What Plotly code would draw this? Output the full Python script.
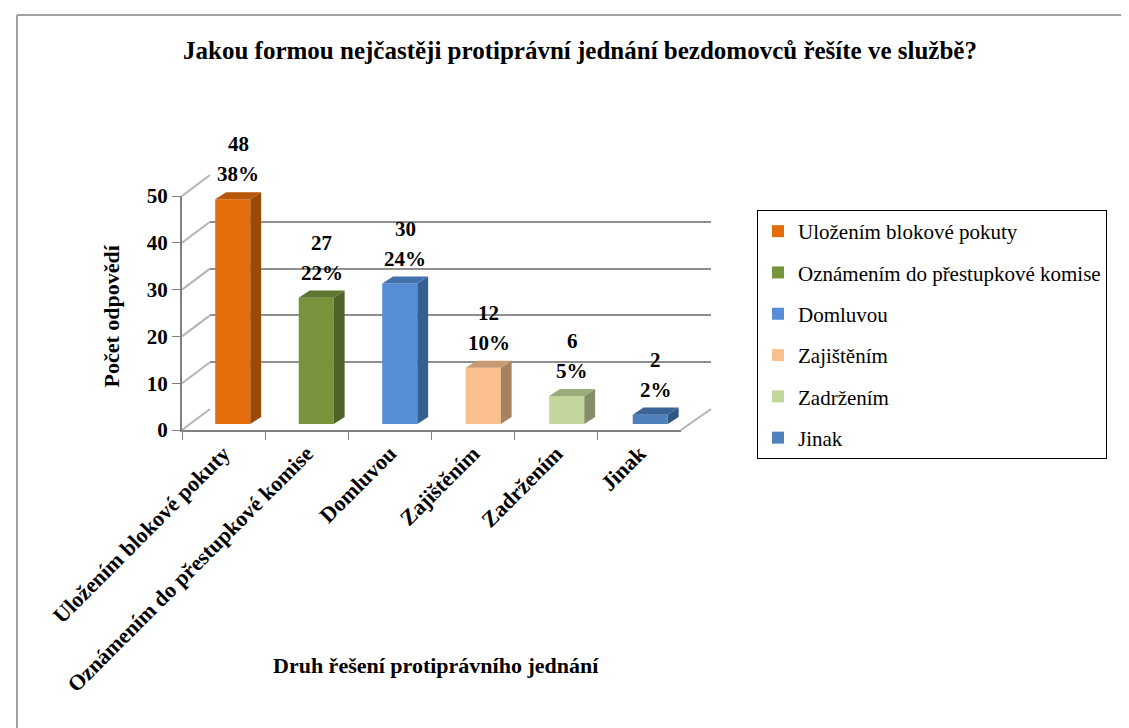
import plotly.graph_objects as go

categories = ["Uložením blokové pokuty", "Oznámením do přestupkové komise", "Domluvou",
              "Zajištěním", "Zadržením", "Jinak"]
counts = [48, 27, 30, 12, 6, 2]
y_ticks = [0, 10, 20, 30, 40, 50]

front_colors = ["#E46C0A", "#77933C", "#558ED5", "#FAC090", "#C3D69B", "#4F81BD"]
side_colors = ["#9B4907", "#4F6228", "#365F91", "#A88160", "#848F68", "#2E5783"]
top_colors = ["#B65608", "#5F7630", "#4272AE", "#C89A73", "#9CAB7C", "#3B6496"]

W, H = 1129, 728
FONT = "Liberation Serif, Times New Roman, serif"


def fx(px):
    return px / W


def fy(py):
    return 1 - py / H


# pixel boxes of the three planes (front axis, back wall, bar plane)
FRONT = dict(x0=174, x1=673, y0=422, y50=188)
BACK = dict(x0=202, x1=703, y0=401, y50=167)
BARS = dict(x0=183, x1=684, y0=416, y50=182)

bar_w = 0.42
dx = 0.13   # depth of bars in category units
dy = 1.5    # depth of bars in value units

total = sum(counts)
pcts = [round(v * 100 / total) for v in counts]

fig = go.Figure()

# back wall subplot (x, y) - only gridlines
fig.add_trace(go.Scatter(x=[0], y=[None], xaxis="x", yaxis="y", showlegend=False, hoverinfo="skip"))
# front axis subplot (x2, y2)
fig.add_trace(go.Scatter(x=categories, y=[None] * len(categories), xaxis="x2", yaxis="y2",
                         showlegend=False, hoverinfo="skip"))

# bars on (x3, y3)
for i, (cat, v) in enumerate(zip(categories, counts)):
    fig.add_trace(go.Bar(x=[i], y=[v], width=bar_w, name=cat, xaxis="x3", yaxis="y3",
                         marker=dict(color=front_colors[i], line=dict(width=0)),
                         legendgroup=cat))
    xr = i + bar_w / 2
    xl = i - bar_w / 2
    fig.add_trace(go.Scatter(x=[xr, xr + dx, xr + dx, xr, xr], y=[0, dy, v + dy, v, 0],
                             fill="toself", fillcolor=side_colors[i], mode="lines",
                             line=dict(width=0), xaxis="x3", yaxis="y3",
                             showlegend=False, hoverinfo="skip", cliponaxis=False))
    fig.add_trace(go.Scatter(x=[xl, xr, xr + dx, xl + dx, xl], y=[v, v, v + dy, v + dy, v],
                             fill="toself", fillcolor=top_colors[i], mode="lines",
                             line=dict(width=0), xaxis="x3", yaxis="y3",
                             showlegend=False, hoverinfo="skip", cliponaxis=False))
    fig.add_annotation(x=i + dx / 2, y=v, xref="x3", yref="y3", text=str(v), showarrow=False,
                       yshift=55, font=dict(family=FONT, size=21, color="black", weight="bold"))
    fig.add_annotation(x=i + dx / 2, y=v, xref="x3", yref="y3", text=f"{pcts[i]}%", showarrow=False,
                       yshift=25, font=dict(family=FONT, size=21, color="black", weight="bold"))

shapes = []
# diagonal wall lines connecting the front axis with the back wall
for t in y_ticks:
    yf = FRONT["y0"] + (FRONT["y50"] - FRONT["y0"]) * t / 50
    yb = BACK["y0"] + (BACK["y50"] - BACK["y0"]) * t / 50
    shapes.append(dict(type="line", xref="paper", yref="paper",
                       x0=fx(FRONT["x0"]), y0=fy(yf), x1=fx(BACK["x0"]), y1=fy(yb),
                       line=dict(color="#b4b4b4", width=2), layer="below"))
shapes.append(dict(type="line", xref="paper", yref="paper",
                   x0=fx(FRONT["x1"]), y0=fy(FRONT["y0"]), x1=fx(BACK["x1"]), y1=fy(BACK["y0"]),
                   line=dict(color="#b4b4b4", width=2), layer="below"))
# chart border (left and top edges visible)
shapes.append(dict(type="line", xref="paper", yref="paper", x0=fx(9), y0=fy(7), x1=1.01, y1=fy(7),
                   line=dict(color="#a0a0a0", width=2)))
shapes.append(dict(type="line", xref="paper", yref="paper", x0=fx(9), y0=fy(7), x1=fx(9), y1=-0.01,
                   line=dict(color="#a0a0a0", width=2)))

fig.add_annotation(text="Počet odpovědí", xref="paper", yref="paper", x=fx(88), y=fy(308),
                   textangle=-90, showarrow=False,
                   font=dict(family=FONT, size=22, color="black", weight="bold"))
fig.add_annotation(text="Druh řešení protiprávního jednání", xref="paper", yref="paper",
                   x=fx(428), y=fy(672), showarrow=False,
                   font=dict(family=FONT, size=22, color="black", weight="bold"))

fig.update_layout(
    width=W, height=H,
    margin=dict(l=0, r=0, t=0, b=0, autoexpand=False),
    paper_bgcolor="white",
    plot_bgcolor="rgba(0,0,0,0)",
    barmode="overlay",
    title=dict(text="Jakou formou nejčastěji protiprávní jednání bezdomovců řešíte ve službě?",
               x=fx(572), y=fy(42), xanchor="center", yanchor="middle",
               font=dict(family=FONT, size=25, color="black", weight="bold")),
    xaxis=dict(domain=[fx(BACK["x0"]), fx(BACK["x1"])], anchor="y", range=[0, 1], visible=False,
               fixedrange=True, automargin=False),
    yaxis=dict(domain=[fy(BACK["y0"]), fy(BACK["y50"])], anchor="x", range=[0, 50], dtick=10,
               showgrid=True, gridcolor="#8f8f8f", gridwidth=2, zeroline=False, showline=False,
               showticklabels=False, ticks="", automargin=False),
    xaxis2=dict(domain=[fx(FRONT["x0"]), fx(FRONT["x1"])], anchor="y2", type="category",
                categoryorder="array", categoryarray=categories, range=[-0.5, len(categories) - 0.5],
                showline=True, linecolor="#808080", linewidth=2, ticks="outside",
                tickson="boundaries", ticklen=8, tickcolor="#808080", tickwidth=1,
                tickangle=-45, showgrid=False, automargin=False,
                tickfont=dict(family=FONT, size=22, color="black", weight="bold")),
    yaxis2=dict(domain=[fy(FRONT["y0"]), fy(FRONT["y50"])], anchor="x2", range=[0, 50], dtick=10,
                showline=True, linecolor="#808080", linewidth=2, ticks="outside", ticklen=8,
                tickcolor="#808080", tickwidth=1, showgrid=False, zeroline=False, automargin=False,
                tickfont=dict(family=FONT, size=21, color="black", weight="bold")),
    xaxis3=dict(domain=[fx(BARS["x0"]), fx(BARS["x1"])], anchor="y3", range=[-0.5, len(categories) - 0.5],
                visible=False, automargin=False),
    yaxis3=dict(domain=[fy(BARS["y0"]), fy(BARS["y50"])], anchor="x3", range=[0, 50], visible=False,
                automargin=False),
    legend=dict(x=fx(749), y=fy(202), xref="container", yref="container",
                xanchor="left", yanchor="top",
                bordercolor="black", borderwidth=1, bgcolor="white",
                font=dict(family=FONT, size=21, color="black"),
                tracegroupgap=11, traceorder="grouped"),
    shapes=shapes,
)

fig.write_html("out.html")
